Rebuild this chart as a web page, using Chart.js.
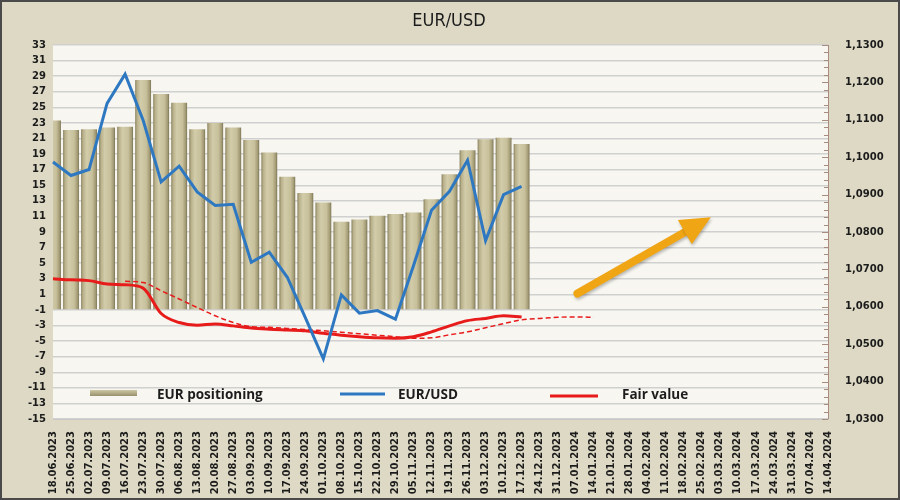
<!DOCTYPE html>
<html>
<head>
<meta charset="utf-8">
<script src="https://cdn.jsdelivr.net/npm/chart.js@4.4.1/dist/chart.umd.min.js"></script>
<style>
  html, body { margin: 0; padding: 0; background: #DDD9C4; }
  #wrap { width: 900px; height: 500px; position: relative; }
</style>
</head>
<body>
<div id="wrap"><canvas id="chart" width="900" height="500"></canvas></div>
<script>
// Fechas semanales (eje X)
const dates = [
  "18.06.2023", "25.06.2023", "02.07.2023", "09.07.2023", "16.07.2023", "23.07.2023",
  "30.07.2023", "06.08.2023", "13.08.2023", "20.08.2023", "27.08.2023", "03.09.2023",
  "10.09.2023", "17.09.2023", "24.09.2023", "01.10.2023", "08.10.2023", "15.10.2023",
  "22.10.2023", "29.10.2023", "05.11.2023", "12.11.2023", "19.11.2023", "26.11.2023",
  "03.12.2023", "10.12.2023", "17.12.2023", "24.12.2023", "31.12.2023", "07.01.2024",
  "14.01.2024", "21.01.2024", "28.01.2024", "04.02.2024", "11.02.2024", "18.02.2024",
  "25.02.2024", "03.03.2024", "10.03.2024", "17.03.2024", "24.03.2024", "31.03.2024",
  "07.04.2024", "14.04.2024"
];

// EUR positioning (eje izquierdo)
const positioning = [
  23.3, 22.1, 22.2, 22.4, 22.5, 28.5, 26.7, 25.6, 22.2, 23.0, 22.4, 20.8, 19.2, 16.1,
  14.0, 12.8, 10.3, 10.6, 11.1, 11.3, 11.5, 13.2, 16.4, 19.5, 20.9, 21.1, 20.3
];

// EUR/USD (eje derecho)
const eurusd = [
  1.0987, 1.0951, 1.0967, 1.1144, 1.1222, 1.1099, 1.0934, 1.0976, 1.0907, 1.0871,
  1.0874, 1.0719, 1.0746, 1.0679, 1.0571, 1.0461, 1.0632, 1.0583, 1.0590, 1.0567,
  1.0710, 1.0858, 1.0909, 1.0992, 1.0777, 1.0900, 1.0922
];

// Fair value (línea roja continua)
const fairValue = [
  1.0675, 1.0672, 1.0670, 1.0661, 1.0659, 1.0650, 1.0582, 1.0558, 1.0551, 1.0554,
  1.0549, 1.0543, 1.0540, 1.0538, 1.0536, 1.0529, 1.0524, 1.0520, 1.0517, 1.0516,
  1.0520, 1.0533, 1.0549, 1.0563, 1.0569, 1.0576, 1.0573
];

// Tendencia de fair value (línea roja discontinua)
const fairTrend = [
  null, null, null, null,
  1.0668, 1.0665, 1.0643, 1.0621, 1.0598, 1.0576, 1.0558, 1.0547, 1.0545, 1.0542,
  1.0539, 1.0536, 1.0532, 1.0528, 1.0524, 1.0520, 1.0516, 1.0517, 1.0525, 1.0533,
  1.0544, 1.0555, 1.0565, 1.0569, 1.0572, 1.0573, 1.0572
];

// Flecha de previsión: [índice de categoría, valor eje izquierdo]
const arrowFrom = [29.1, 1.1];
const arrowTo = [36.5, 10.9];

const leftTicks = { min: -15, max: 33, step: 2 };
const rightTicks = { min: 1.03, max: 1.13, step: 0.01 };

const TEXT = "#1c1c1c";
const tickFont = { family: "DejaVu Sans", size: 10, weight: "bold" };

// Relleno 3D de las barras (gradiente horizontal)
function barFill(c) {
  const chart = c.chart;
  if (c.type !== "data" || !chart.chartArea) return "#C9C29D";
  const x = chart.scales.x.getPixelForValue(c.dataIndex);
  const w = 16;
  const g = chart.ctx.createLinearGradient(x - w / 2, 0, x + w / 2, 0);
  g.addColorStop(0, "#857E5B");
  g.addColorStop(0.12, "#B8B08A");
  g.addColorStop(0.35, "#D3CCAA");
  g.addColorStop(0.7, "#C7C09B");
  g.addColorStop(0.9, "#A39B75");
  g.addColorStop(1, "#7A7353");
  return g;
}

// Fondo, marco, título, leyenda, flecha y marcas menores
const decorations = {
  id: "decorations",
  beforeDraw(chart) {
    const { ctx, chartArea: a } = chart;
    ctx.save();
    ctx.fillStyle = "#DDD9C4";
    ctx.fillRect(0, 0, chart.width, chart.height);
    ctx.fillStyle = "#F7F6F1";
    ctx.fillRect(a.left, a.top, a.right - a.left, a.bottom - a.top);
    ctx.restore();
  },
  afterDatasetsDraw(chart) {
    const { ctx, scales } = chart;
    const x1 = scales.x.getPixelForValue(arrowFrom[0]);
    const y1 = scales.y.getPixelForValue(arrowFrom[1]);
    const x2 = scales.x.getPixelForValue(arrowTo[0]);
    const y2 = scales.y.getPixelForValue(arrowTo[1]);
    const ang = Math.atan2(y2 - y1, x2 - x1);
    const head = 30, half = 14;
    const bx = x2 - head * Math.cos(ang), by = y2 - head * Math.sin(ang);
    ctx.save();
    ctx.shadowColor = "rgba(0,0,0,0.25)";
    ctx.shadowBlur = 3;
    ctx.shadowOffsetX = 1;
    ctx.shadowOffsetY = 2;
    ctx.strokeStyle = "#F0A514";
    ctx.fillStyle = "#F0A514";
    ctx.lineWidth = 8;
    ctx.lineCap = "round";
    ctx.beginPath();
    ctx.moveTo(x1, y1);
    ctx.lineTo(bx + 4 * Math.cos(ang), by + 4 * Math.sin(ang));
    ctx.stroke();
    ctx.beginPath();
    ctx.moveTo(x2, y2);
    ctx.lineTo(bx + half * Math.sin(ang), by - half * Math.cos(ang));
    ctx.lineTo(bx - half * Math.sin(ang), by + half * Math.cos(ang));
    ctx.closePath();
    ctx.fill();
    ctx.restore();
  },
  afterDraw(chart) {
    const { ctx, chartArea: a, scales } = chart;
    ctx.save();

    // marcas menores del eje derecho
    const r = scales.y1;
    ctx.strokeStyle = "#A88C80";
    ctx.lineWidth = 1;
    ctx.beginPath();
    ctx.moveTo(a.right + 0.5, a.top);
    ctx.lineTo(a.right + 0.5, a.bottom);
    for (let i = 0; i <= 50; i++) {
      const y = Math.round(r.getPixelForValue(rightTicks.min + i * 0.002)) + 0.5;
      const len = i % 5 === 0 ? 6 : 4;
      ctx.moveTo(a.right - len, y);
      ctx.lineTo(a.right, y);
    }
    ctx.stroke();

    // título
    ctx.fillStyle = TEXT;
    ctx.font = "18px 'Liberation Sans Narrow', 'DejaVu Sans Condensed', Roboto, sans-serif";
    ctx.textAlign = "center";
    ctx.textBaseline = "middle";
    ctx.fillText("EUR/USD", 449, 21);

    // leyenda
    const ly = 395;
    const sw = ctx.createLinearGradient(0, ly - 5, 0, ly + 2);
    sw.addColorStop(0, "#CFC8A4");
    sw.addColorStop(1, "#8E8763");
    ctx.fillStyle = sw;
    ctx.fillRect(90, ly - 5, 47, 6);
    ctx.lineWidth = 3;
    ctx.strokeStyle = "#2E78C2";
    ctx.beginPath();
    ctx.moveTo(340, ly - 1);
    ctx.lineTo(385, ly - 1);
    ctx.stroke();
    ctx.strokeStyle = "#E81B1B";
    ctx.beginPath();
    ctx.moveTo(550, ly + 1);
    ctx.lineTo(598, ly + 1);
    ctx.stroke();
    ctx.fillStyle = TEXT;
    ctx.font = "bold 13.5px 'Open Sans', sans-serif";
    ctx.textAlign = "left";
    ctx.fillText("EUR positioning", 157, ly);
    ctx.fillText("EUR/USD", 398, ly);
    ctx.fillText("Fair value", 622, ly);

    // marco exterior
    ctx.strokeStyle = "#4A4A4A";
    ctx.lineWidth = 2;
    ctx.strokeRect(1, 1, chart.width - 2, chart.height - 2);
    ctx.restore();
  }
};

new Chart(document.getElementById("chart"), {
  type: "bar",
  data: {
    labels: dates,
    datasets: [
      {
        type: "line",
        label: "EUR/USD",
        data: eurusd,
        yAxisID: "y1",
        borderColor: "#2E78C2",
        borderWidth: 3,
        pointRadius: 0,
        tension: 0,
        order: 1
      },
      {
        type: "line",
        label: "Fair value",
        data: fairValue,
        yAxisID: "y1",
        borderColor: "#E81B1B",
        borderWidth: 3,
        pointRadius: 0,
        cubicInterpolationMode: "monotone",
        order: 2
      },
      {
        type: "line",
        label: "Fair value trend",
        data: fairTrend,
        yAxisID: "y1",
        borderColor: "#E81B1B",
        borderWidth: 1.5,
        borderDash: [5, 3],
        pointRadius: 0,
        cubicInterpolationMode: "monotone",
        order: 3
      },
      {
        label: "EUR positioning",
        data: positioning,
        yAxisID: "y",
        base: -0.9,
        backgroundColor: barFill,
        borderWidth: 0,
        barPercentage: 0.88,
        categoryPercentage: 1,
        clip: 0,
        order: 10
      }
    ]
  },
  options: {
    responsive: false,
    animation: false,
    layout: { padding: { top: 45, left: 0, right: 0, bottom: 0 } },
    plugins: {
      legend: { display: false },
      title: { display: false },
      tooltip: { enabled: false }
    },
    scales: {
      x: {
        offset: false,
        grid: { display: false },
        border: { display: true, color: "#C8C8C8" },
        ticks: {
          autoSkip: false,
          minRotation: 90,
          maxRotation: 90,
          padding: 4,
          color: TEXT,
          font: tickFont
        },
        afterFit(s) { s.height = 81; }
      },
      y: {
        position: "left",
        min: leftTicks.min,
        max: leftTicks.max,
        grid: { color: "#D0D0D0", lineWidth: 1.5, drawTicks: false },
        border: { display: false },
        ticks: {
          stepSize: leftTicks.step,
          autoSkip: false,
          maxTicksLimit: 60,
          padding: 7,
          color: TEXT,
          font: tickFont
        },
        afterFit(s) { s.width = 53; }
      },
      y1: {
        position: "right",
        min: rightTicks.min,
        max: rightTicks.max,
        grid: { drawOnChartArea: false, drawTicks: false },
        border: { display: false },
        ticks: {
          stepSize: rightTicks.step,
          autoSkip: false,
          maxTicksLimit: 20,
          padding: 17,
          color: TEXT,
          font: tickFont,
          callback: (v) => v.toFixed(4).replace(".", ",")
        },
        afterFit(s) { s.width = 72; }
      }
    }
  },
  plugins: [decorations]
});
</script>
</body>
</html>
